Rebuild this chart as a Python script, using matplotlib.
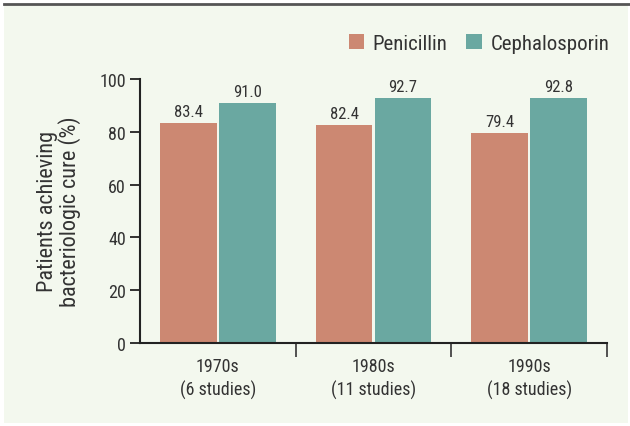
import matplotlib.pyplot as plt
from matplotlib.patches import Rectangle
from matplotlib.lines import Line2D
import numpy as np

decades = ["1970s\n(6 studies)", "1980s\n(11 studies)", "1990s\n(18 studies)"]
penicillin = [83.4, 82.4, 79.4]
cephalosporin = [91.0, 92.7, 92.8]

pen_color = '#cc8872'
ceph_color = '#6aa8a1'
txt = '#333333'
plt.rcParams['font.family'] = ['Roboto Condensed', 'Archivo Narrow', 'DejaVu Sans']

fig = plt.figure(figsize=(6.3, 4.27), dpi=100)
fig.patch.set_facecolor('white')
fig.add_artist(Rectangle((4/630, 3/427), 624/630, 418/427, transform=fig.transFigure,
                         facecolor='#f3f8ee', edgecolor='none', zorder=-10))
fig.add_artist(Line2D([4/630, 1], [1-5/427, 1-5/427], transform=fig.transFigure,
                      color='#555555', linewidth=2, zorder=-9))

ax = fig.add_axes([140/630, 1-344/427, 467/630, 264/427])
ax.set_facecolor('none')

x = np.arange(len(decades))
w = 0.366
off = w/2 + 0.0065
b1 = ax.bar(x - off, penicillin, w, color=pen_color, label='Penicillin')
b2 = ax.bar(x + off, cephalosporin, w, color=ceph_color, label='Cephalosporin')
for bars, vals in [(b1, penicillin), (b2, cephalosporin)]:
    for r, v in zip(bars, vals):
        ax.text(r.get_x() + r.get_width()/2, v + 1.6, f"{v:.1f}", ha='center', va='bottom',
                fontsize=12, color=txt)

ax.set_xlim(-0.5, 2.5)
ax.set_ylim(0, 100)
ax.set_yticks([0, 20, 40, 60, 80, 100])
ax.tick_params(axis='y', length=7, width=1.3, color='#222222', labelsize=13, labelcolor=txt, pad=3)
ax.set_xticks([0.5, 1.5, 2.5])
ax.set_xticklabels([])
ax.set_xticks(x, minor=True)
ax.set_xticklabels(decades, minor=True, fontsize=13, color=txt, linespacing=1.3)
ax.tick_params(axis='x', which='major', length=10, width=1.3, color='#444444')
ax.tick_params(axis='x', which='minor', length=0, pad=10)
for s in ['top', 'right']:
    ax.spines[s].set_visible(False)
for s in ['left', 'bottom']:
    ax.spines[s].set_color('#222222')
    ax.spines[s].set_linewidth(1.5)

ax.set_ylabel("Patients achieving\nbacteriologic cure (%)", fontsize=16, color=txt,
              labelpad=13, linespacing=1.05)

ax.legend(loc='upper right', bbox_to_anchor=(628/630, 1-16/427), bbox_transform=fig.transFigure,
          ncol=2, frameon=False, fontsize=15, handlelength=0.75, handleheight=0.75,
          handletextpad=0.4, columnspacing=0.9, labelcolor=txt)

fig.savefig('out.png', dpi=100)
